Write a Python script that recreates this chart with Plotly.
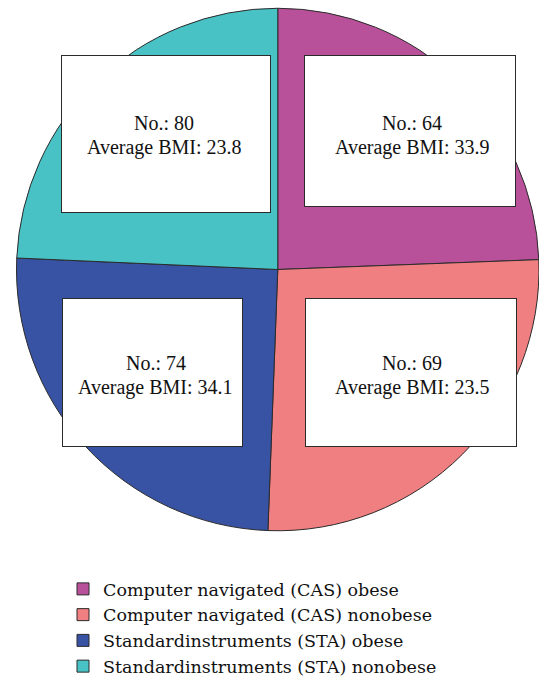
import plotly.graph_objects as go

# Data
groups = [
    "Computer navigated (CAS) obese",
    "Computer navigated (CAS) nonobese",
    "Standardinstruments (STA) obese",
    "Standardinstruments (STA) nonobese",
]
# slice shares (%) as drawn in the picture (clockwise from 12 o'clock)
slice_share = [24.4, 26.2, 25.1, 24.3]
counts = [64, 69, 74, 80]
avg_bmi = [33.9, 23.5, 34.1, 23.8]
colors = ["#B9519A", "#F07F81", "#3853A4", "#49C2C5"]

W, H = 539, 680
BOX_FONT = "Liberation Serif"
LEG_FONT = "DejaVu Serif"

def px_x(x):
    return x / W

def px_y(y):
    return 1 - y / H

fig = go.Figure()
fig.add_trace(go.Pie(
    labels=groups,
    values=slice_share,
    sort=False,
    direction="clockwise",
    rotation=0,
    textinfo="none",
    hoverinfo="skip",
    marker=dict(colors=colors, line=dict(color="#2b2b2b", width=1)),
    domain=dict(x=[px_x(16.5), px_x(539)], y=[px_y(531.5), px_y(7.5)]),
))

# label boxes (left, top, right, bottom) and text placement (center x, baseline 1, baseline 2), pixels
boxes = [
    (304, 55, 516, 207),
    (305, 298, 517, 447),
    (62, 298, 243, 447),
    (61, 55, 271, 213),
]
text_pos = [
    (412, 130, 154),
    (412, 370, 394),
    (155.5, 370, 394),
    (164, 129.5, 154),
]
FS = 20
for (x0, y0, x1, y1), (tx, b1, b2), n, b in zip(boxes, text_pos, counts, avg_bmi):
    fig.add_annotation(
        x=px_x((x0 + x1) / 2), y=px_y((y0 + y1) / 2), xref="paper", yref="paper",
        xanchor="center", yanchor="middle",
        text=" ", showarrow=False,
        width=x1 - x0 - 2, height=y1 - y0 - 2,
        bgcolor="white", bordercolor="#2b2b2b", borderwidth=1, borderpad=0,
    )
    for line, base in ((f"No.: {n}", b1), (f"Average BMI: {b}", b2)):
        fig.add_annotation(
            x=px_x(tx), y=px_y(base - 0.34 * FS), xref="paper", yref="paper",
            xanchor="center", yanchor="middle",
            text=line, showarrow=False,
            font=dict(family=BOX_FONT, size=FS, color="#111"),
        )

fig.update_layout(
    width=W, height=H,
    margin=dict(l=0, r=0, t=0, b=0, autoexpand=False),
    paper_bgcolor="white",
    showlegend=True,
    legend=dict(
        x=px_x(63), xanchor="left",
        y=px_y(571), yanchor="top",
        font=dict(family=LEG_FONT, size=17.5, color="#111"),
        traceorder="normal",
        bgcolor="rgba(0,0,0,0)",
    ),
)

fig.write_html("out.html", config={"displayModeBar": False},
               post_script="document.body.style.margin='0';")
